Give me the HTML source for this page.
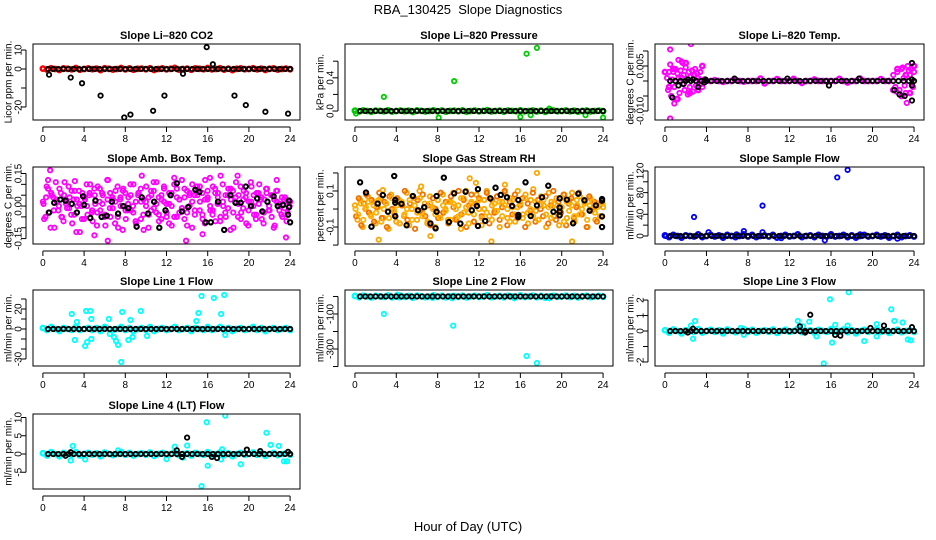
<!DOCTYPE html>
<html><head><meta charset="utf-8"><style>
html,body{margin:0;padding:0;background:#fff;}
svg{display:block;font-family:"Liberation Sans",Arial,sans-serif;}
</style></head><body>
<svg id="fig" width="936" height="540" viewBox="0 0 936 540" xmlns="http://www.w3.org/2000/svg">
<text x="468" y="14" text-anchor="middle" font-size="13">RBA_130425&#160; Slope Diagnostics</text>
<text x="468" y="531" text-anchor="middle" font-size="13">Hour of Day (UTC)</text>
</svg>
<script>
const xTicks=[0,4,8,12,16,20,24];
// CO2
const co2Band=[0.2,-0.3,0.4,0,-0.5,0.3,0.1,-0.2,0.5,-0.4,0,0.3,-0.1,0.2,-0.6,0.4,0.1,-0.3,0,0.5,-0.2,0.3,-0.4,0.1,0.2,-0.1,0.4,-0.5,0,0.3,-0.2,0.1,0.6,-0.3,0,0.2,-0.4,0.3,0.1,-0.1,0.5,-0.2,0,0.4,-0.3,0.2,-0.6,0.1,0.3,-0.1,0,0.4,-0.2,0.2,-0.5,0.1,0.3,-0.3,0,0.2,-0.1];
const co2OutH=[];const co2OutV=[];
const co2Blk=[0,0,0,0,0,0,0,0,0,0,0,0,0,0,0,0,0,0,0,0,0,0,0,0,0,0,0,0,0,0,0,0,0,0,0,0,0,0,0,0,0,0,0,0,0,0,0,0];
const co2BlkH=[0.6,2.7,3.8,5.6,7.9,8.5,10.7,11.8,13.6,15.9,16.5,18.6,19.7,21.6,23.8];
const co2BlkV=[-3,-4.5,-7.5,-14,-25.5,-24,-22,-14,-2.5,11.5,2.5,-14,-19,-22.5,-23.5];
// Pressure
const prsBand=[0.004,-0.006,0.008,0,-0.01,0.005,0.002,-0.004,0.009,-0.007,0,0.006,-0.002,0.004,-0.011,0.007,0.002,-0.005,0,0.009,-0.004,0.006,-0.008,0.002,0.004,-0.002,0.008,-0.009,0,0.006,-0.004,0.002,0.01,-0.006,0,0.004,-0.008,0.006,0.002,-0.002,0.009,-0.004,0,0.008,-0.006,0.004,-0.01,0.002,0.006,-0.002,0,0.008,-0.004,0.004,-0.009,0.002,0.006,-0.006,0,0.004,-0.002];
const prsOutH=[2.8,9.6,16.6,17.6,8.1,16.0,24.0,18.8,17.0,22.3,0.1];
const prsOutV=[0.17,0.36,0.69,0.76,-0.08,-0.07,-0.08,0.03,-0.05,-0.05,-0.03];
const prsBlk=[0,0,0,0,0,0,0,0,0,0,0,0,0,0,0,0,0,0,0,0,0,0,0,0,0,0,0,0,0,0,0,0,0,0,0,0,0,0,0,0,0,0,0,0,0,0,0,0];
const prsBlkH=[];const prsBlkV=[];
// Temp
const tmpBand=[0.003,-0.002,0.004,-0.006,0.001,0.006,-0.004,0.002,-0.003,0.005,0.000,0,0.0003,0,-0.0003,0,0,0.0004,0,-0.0002,0,0,0,0.0008,-0.0008,0,0,0.0006,0,0,0,0.0007,0,-0.0006,0,0,0.0005,0,0,0,0,0,0.0007,0,-0.0005,0,0,0.0008,0,0,0,0,0.0006,0,0,-0.003,0.004,-0.005,0.002,-0.004,0.005];
const tmpOutH=[0.2,0.3,0.4,0.5,0.6,0.7,0.8,0.9,1.0,1.1,1.2,1.3,1.4,1.5,1.6,1.7,1.8,1.9,2.0,2.1,2.2,2.3,2.4,2.5,2.6,2.7,2.8,2.9,3.0,3.1,3.2,3.3,3.4,3.5,3.6,3.8,0.5,2.5,0.5,0.9,1.7,1.3,22.0,22.2,22.4,22.6,22.8,23.0,23.2,23.4,23.6,23.8,24.0,22.3,22.9,23.3,23.5,23.9,23.7,23.1];
const tmpOutV=[0.001,-0.003,0.003,0.0055,-0.005,0.0005,0.003,-0.002,0.004,-0.006,0.0025,0.001,-0.004,0.0035,0.0065,-0.001,0.002,-0.003,0.0045,0.0008,-0.0045,0.003,-0.002,0.0015,0.0035,-0.0035,0.002,0.004,-0.0015,0.0025,0.001,0.0002,0.003,-0.001,-0.002,0.0005,0.0105,0.0123,-0.0125,-0.0075,0.006,0.007,0.002,-0.002,0.003,-0.003,0.004,0.001,-0.004,0.005,0.002,-0.001,0.003,-0.0035,0.0045,-0.0073,0.0035,-0.002,0.004,-0.0015];
const tmpBlk=[0,0,0,0,0,0,0,0,0,0,0,0,0,0,0,0,0,0,0,0,0,0,0,0,0,0,0,0,0,0,0,0,0,0,0,0,0,0,0,0,0,0,0,0,0,0,0,0];
const tmpBlkH=[0.7,1.3,1.8,2.2,2.7,3.2,3.8,3.9,6.7,11.8,15.8,18.7,22.1,22.6,23.1,23.8,23.8,23.8,23.8];
const tmpBlkV=[-0.0055,-0.0015,-0.001,0.0005,0.0005,-0.002,-0.0005,0.0005,0.0008,0.0008,-0.0015,0.0008,-0.003,-0.0045,-0.005,-0.0065,-0.0015,0.0005,0.006];
// Amb box temp
const ambA=[0.02,-0.05,0.08,-0.1,0.04,0.11,-0.02,0.06,-0.07,0.01,0.09,-0.04,0.03,-0.12,0.07,0.0,-0.06,0.1,0.05,-0.03,0.08,-0.09,0.02,0.06,-0.05,0.12,-0.01,0.04,-0.08,0.09,0.03,-0.11,0.06,-0.02,0.1,0.0,-0.07,0.05,0.08,-0.04,0.02,-0.1,0.07,0.11,-0.03,0.04,-0.06,0.09,0.01,-0.08,0.06,0.13,-0.05,0.03,-0.01,0.08,-0.09,0.05,0.1,-0.04,0.07,0.02,-0.06,0.12,0.04,-0.02,0.09,-0.07,0.06,0.14,0.0,-0.05,0.08,0.03,-0.1,0.11,0.05,-0.03,0.07,-0.08,0.02,0.09,-0.04,0.06,0.1,-0.06,0.03,0.08,-0.02,0.05,-0.09,0.07,0.01,-0.05,0.04,-0.03,0.02];
const ambB=[-0.06,0.09,-0.03,0.05,-0.1,0.02,0.08,-0.05,0.11,-0.01,0.04,-0.08,0.07,0.0,-0.12,0.06,0.03,-0.04,0.1,-0.07,0.01,0.09,-0.02,0.05,-0.09,0.12,-0.05,0.03,0.07,-0.1,0.0,0.08,-0.06,0.04,-0.02,0.1,-0.08,0.06,0.02,-0.11,0.09,-0.04,0.05,-0.01,0.11,-0.07,0.03,0.08,-0.05,0.01,-0.09,0.1,0.04,-0.03,0.12,-0.06,0.07,0.0,-0.1,0.05,0.09,-0.02,0.06,-0.08,0.03,0.13,-0.04,0.08,0.01,-0.07,0.1,-0.03,0.05,-0.11,0.07,0.02,-0.05,0.09,-0.01,0.04,-0.09,0.11,0.0,-0.06,0.06,0.03,-0.08,0.08,-0.02,0.05,-0.1,0.07,0.01,-0.04,0.03,-0.07,0.02];
const ambC=[0.01,0.04,-0.03,0.06,-0.02,0.03,0.0,-0.05,0.05,0.02,-0.01,0.07,-0.04,0.03,0.01,-0.06,0.04,0.0,0.06,-0.02,0.05,-0.03,0.08,0.01,-0.04,0.03,0.06,-0.01,0.02,-0.05,0.04,0.07,-0.02,0.01,0.05,-0.03,0.02,0.06,-0.06,0.03,0.0,0.04,-0.02,0.07,0.01,-0.04,0.05,0.02,-0.03,0.06,0.0,-0.05,0.08,0.03,-0.01,0.04,-0.03,0.06,0.02,-0.02,0.05,0.09,-0.04,0.03,0.07,0.0,-0.02,0.06,0.04,-0.05,0.02,0.05,-0.01,0.08,-0.03,0.04,0.01,-0.06,0.03,0.06,-0.02,0.02,0.05,-0.04,0.01,0.04,-0.03,0.06,0.0,-0.05,0.03,0.02,-0.02,0.04,-0.01,0.02,0.0];
const ambOutH=[0.7,0.5,6.3,13.9,18.9,5.0,23.6,9.6,15.5,3.1,22.7];
const ambOutV=[0.165,0.12,-0.16,-0.16,0.14,-0.135,-0.145,0.14,-0.13,0.115,0.12];
const ambBlkH=[0.6,1.1,1.7,2.2,2.8,3.3,3.9,4.0,4.6,5.1,5.7,6.2,6.7,7.3,7.8,8.3,9.1,9.6,10.2,10.8,11.3,11.9,12.4,13.0,13.5,14.1,14.8,15.2,15.8,16.3,17.0,17.6,18.2,18.7,19.2,19.7,20.2,20.8,21.3,21.8,22.4,22.8,23.3,23.9,23.8,23.9,24.0];
const ambBlkV=[-0.03,0.015,0.03,0.025,0.01,-0.03,0.045,0.005,-0.055,0.025,-0.05,-0.045,0.02,-0.035,0.0,-0.01,-0.095,0.04,-0.035,0.02,-0.1,-0.02,0.05,0.105,-0.025,-0.005,0.075,0.065,-0.075,-0.075,0.02,-0.11,0.05,0.015,0.015,0.09,0.0,0.035,-0.025,0.02,0.045,0.0,0.005,-0.005,-0.04,0.025,-0.075];
// RH
const rhA=[0.02,-0.06,0.05,-0.1,0.0,0.07,-0.03,0.04,-0.08,0.01,0.06,-0.05,0.03,-0.11,0.08,-0.01,-0.07,0.05,0.02,-0.04,0.09,-0.09,0.0,0.06,-0.06,0.1,-0.02,0.03,-0.08,0.07,0.01,-0.1,0.05,-0.03,0.08,0.0,-0.06,0.04,0.09,-0.05,0.02,-0.11,0.06,0.1,-0.02,0.03,-0.07,0.08,0.0,-0.09,0.05,0.1,-0.04,0.02,-0.01,0.07,-0.1,0.04,0.09,-0.05,0.06,0.01,-0.07,0.1,0.03,-0.03,0.08,-0.08,0.05,0.11,-0.01,-0.06,0.07,0.02,-0.1,0.09,0.04,-0.04,0.06,-0.09,0.01,0.08,-0.05,0.05,0.09,-0.07,0.02,0.07,-0.03,0.04,-0.1,0.06,0.0,-0.06,0.03,-0.04,0.01];
const rhB=[-0.04,0.06,-0.09,0.03,0.08,-0.02,0.05,-0.07,0.01,0.09,-0.05,0.04,-0.1,0.07,0.0,-0.03,0.06,-0.08,0.02,0.1,-0.06,0.03,0.07,-0.11,0.05,-0.01,0.08,-0.04,0.02,-0.09,0.06,0.0,-0.05,0.09,-0.02,0.04,-0.08,0.07,0.01,-0.06,0.1,-0.03,0.05,-0.1,0.02,0.08,-0.07,0.03,0.06,-0.04,0.0,0.09,-0.08,0.05,-0.02,0.07,-0.06,0.01,0.1,-0.09,0.04,-0.03,0.08,-0.05,0.02,0.06,-0.1,0.03,-0.01,0.09,-0.07,0.05,0.0,-0.04,0.07,-0.08,0.02,0.1,-0.06,0.04,-0.02,0.08,-0.09,0.03,0.06,-0.05,0.01,0.09,-0.03,0.05,-0.1,0.07,-0.01,0.04,-0.07,0.02,0.05];
const rhC=[0.0,-0.03,0.03,-0.06,0.01,0.04,-0.04,0.02,-0.02,0.05,-0.07,0.0,0.03,-0.05,0.06,-0.01,0.02,-0.08,0.04,-0.03,0.0,0.05,-0.06,0.02,-0.02,0.06,-0.04,0.01,-0.07,0.03,0.0,-0.03,0.05,-0.05,0.02,-0.01,0.04,-0.06,0.03,0.0,-0.04,0.06,-0.02,0.01,-0.08,0.04,-0.03,0.02,0.05,-0.05,0.0,-0.02,0.06,-0.06,0.03,-0.01,0.04,-0.04,0.02,0.0,-0.07,0.05,-0.03,0.01,0.03,-0.05,0.06,-0.02,0.0,-0.04,0.04,-0.06,0.02,0.05,-0.03,0.01,-0.05,0.03,0.0,-0.02,0.06,-0.07,0.04,-0.01,0.02,-0.04,0.05,-0.03,0.0,0.03,-0.06,0.02,0.04,-0.02,0.01,-0.04,0.03];
const rhOutH=[17.6,13.2,21.0,2.3,11.1,7.3,2.7,6.4,11.7,14.5];
const rhOutV=[0.2,-0.18,-0.18,-0.17,0.17,-0.15,0.105,0.125,0.145,0.135];
const rhBlkH=[0.5,1.07,1.6,2.2,2.7,3.2,3.8,3.9,3.9,3.9,4.5,5.0,5.6,6.1,6.7,7.3,7.8,7.9,7.9,8.6,9.1,9.6,10.2,10.7,11.3,11.8,11.9,11.9,12.6,13.1,13.6,14.1,14.7,15.2,15.8,15.8,15.8,16.5,17.0,17.6,18.1,18.7,19.2,19.8,19.8,19.8,19.8,20.5,21.1,21.6,22.2,22.7,23.3,23.9,23.9,23.9,23.9];
const rhBlkV=[0.148,0.091,-0.098,0.03,0.077,-0.015,0.183,0.05,0.035,-0.04,0.029,-0.09,0.072,-0.007,0.01,-0.08,-0.107,0.072,-0.015,0.174,-0.072,0.087,-0.081,0.096,-0.007,0.017,-0.094,0.11,-0.066,0.059,0.118,0.078,0.065,0.017,0.05,-0.033,-0.044,0.148,-0.039,0.02,0.065,0.129,-0.015,0.059,0.008,-0.015,-0.035,0.052,-0.079,0.085,0.048,-0.009,0.02,-0.041,-0.1,0.046,0.055];
// Sample flow
const smpBand=[1,-2,2,0,-3,1,0,-1,3,-2,0,2,-1,1,-3,2,0,-2,0,3,-1,2,-2,0,1,-1,2,-3,0,2,-1,0,3,-2,0,1,-2,2,0,-1,3,-1,0,2,-2,1,-3,0,2,-1,0,2,-1,1,-3,0,2,-2,0,1,-1];
const smpOutH=[2.8,4.2,7.6,9.4,9.4,15.4,16.6,17.6,18.8,22.4,0.1,6.9,11.2];
const smpOutV=[35,7,9,56,7,-8,108,122,3,-5,0,3,-4];
const smpBlk=[0,0,0,0,0,0,0,0,0,0,0,0,0,0,0,0,0,0,0,0,0,0,0,0,0,0,0,0,0,0,0,0,0,0,0,0,0,0,0,0,0,0,0,0,0,0,0,0];
const smpBlkH=[];const smpBlkV=[];
// Line 1
const l1Band=[1,-1,2,0,-2,1,0,-1,2,-1,0,1,-1,1,-2,2,0,-1,0,2,-1,1,-2,0,1,-1,2,-2,0,1,-1,0,2,-1,0,1,-2,1,0,-1,2,-1,0,2,-1,1,-2,0,1,-1,0,2,-1,1,-2,0,1,-1,0,1,-1];
const l1OutH=[2.8,3.1,3.3,4.1,4.3,4.2,4.6,4.7,4.7,6.4,6.5,6.9,7.1,7.3,7.6,7.7,8.3,8.5,8.7,9.5,10.1,14.9,15.1,15.4,16.6,17.3,17.6,17.7];
const l1OutV=[15,-11,7,-17,-13,18,18,10,-10,10,-5,-8,-12,-16,-33,17,-11,9,-8,18,-7,8,16,33,31,15,34,-6];
const l1Blk=[0,0,0,0,0,0,0,0,0,0,0,0,0,0,0,0,0,0,0,0,0,0,0,0,0,0,0,0,0,0,0,0,0,0,0,0,0,0,0,0,0,0,0,0,0,0,0,0];
const l1BlkH=[];const l1BlkV=[];
// Line 2
const l2Band=[3,-4,5,0,-6,3,1,-3,6,-5,0,4,-2,3,-7,5,1,-4,0,6,-3,4,-5,1,3,-2,5,-6,0,4,-3,1,7,-4,0,3,-5,4,1,-2,6,-3,0,5,-4,3,-7,1,4,-2,0,5,-3,3,-6,1,4,-4,0,3,-2];
const l2OutH=[2.8,9.5,16.6,17.6,4.1,7.5,9.4,15.4,18.8,4.3];
const l2OutV=[-100,-167,-340,-380,10,-8,-10,-10,-10,-6];
const l2Blk=[0,0,0,0,0,0,0,0,0,0,0,0,0,0,0,0,0,0,0,0,0,0,0,0,0,0,0,0,0,0,0,0,0,0,0,0,0,0,0,0,0,0,0,0,0,0,0,0];
const l2BlkH=[];const l2BlkV=[];
// Line 3
const l3Band=[0.05,-0.1,0.1,0,-0.15,0.05,0,-0.05,0.12,-0.1,0,0.08,-0.05,0.05,-0.15,0.1,0,-0.08,0,0.12,-0.05,0.08,-0.1,0,0.05,-0.05,0.1,-0.12,0,0.08,-0.05,0,0.15,-0.08,0,0.05,-0.1,0.08,0,-0.05,0.12,-0.05,0,0.1,-0.08,0.05,-0.15,0,0.08,-0.05,0,0.1,-0.05,0.05,-0.12,0,0.08,-0.08,0,0.05,-0.05];
const l3OutH=[2.7,2.9,2.5,7.6,12.8,13.9,14.6,15.3,15.9,16.1,16.4,17.7,17.6,19.2,20.4,20.4,21.8,22.1,22.9,23.4,23.7,7.3,13.3];
const l3OutV=[-0.5,0.65,0.35,-0.25,0.65,0.6,-0.35,-2.1,2.05,-0.75,0.4,2.5,0.35,-0.65,0.45,-0.35,1.4,0.65,0.55,-0.55,-0.6,0.2,0.3];
const l3Blk=[0,0,0,0,0,0,0,0,0,0,0,0,0,0,0,0,0,0,0,0,0,0,0,0,0,0,0,0,0,0,0,0,0,0,0,0,0,0,0,0,0,0,0,0,0,0,0,0];
const l3BlkH=[2.2,2.7,13.0,13.5,14.0,16.4,16.9,19.8,21.1,23.8];
const l3BlkV=[-0.1,0.15,0.3,-0.1,1.05,-0.25,-0.3,0.2,0.35,0.25];
// Line 4
const l4Band=[0.2,-0.4,0.5,0,-0.6,0.3,0,-0.2,0.5,-0.4,0,0.3,-0.2,0.2,-0.6,0.4,0,-0.3,0,0.5,-0.2,0.3,-0.4,0,0.2,-0.2,0.4,-0.5,0,0.3,-0.2,0,0.6,-0.3,0,0.2,-0.4,0.3,0,-0.2,0.5,-0.2,0,0.4,-0.3,0.2,-0.6,0,0.3,-0.2,0,0.4,-0.2,0.2,-0.5,0,0.3,-0.3,0,0.2,-0.2];
const l4OutH=[2.7,2.9,4.1,7.3,12.0,12.8,14.0,15.4,15.9,16.0,17.3,17.4,17.7,19.2,21.7,22.1,22.9,23.4,23.7,13.6];
const l4OutV=[-1.8,2.2,-1.5,1,-1.4,2,2.3,-8.8,8.7,-3.2,-1.5,1.3,10.5,-2.8,5.8,2.5,2.2,-2,-2,-1];
const l4Blk=[0,0,0,0,0,0,0,0,0,0,0,0,0,0,0,0,0,0,0,0,0,0,0,0,0,0,0,0,0,0,0,0,0,0,0,0,0,0,0,0,0,0,0,0,0,0,0,0];
const l4BlkH=[2.2,2.7,13.0,13.5,14.0,16.4,16.9,19.8,21.1,23.8];
const l4BlkV=[-0.5,0.5,1,-0.8,4.5,-0.8,-1.1,1.2,0.8,0.6];

const NS='http://www.w3.org/2000/svg';
const svg=document.getElementById('fig');
const cols=[{x0:33,x1:300},{x0:345,x1:613},{x0:655,x1:924}];
const rows=[{y0:44,y1:120},{y0:167,y1:244},{y0:290,y1:366},{y0:414,y1:489}];
function mk(tag,attrs,parent){const e=document.createElementNS(NS,tag);for(const k in attrs)e.setAttribute(k,attrs[k]);(parent||svg).appendChild(e);return e;}
function panel(key,title,ylab,c,r,ymin,ymax,yt,ylabs,color,series){
  const C=cols[c],R=rows[r];
  const g=mk('g',{});
  
  
  const xs=h=>C.x0+(h+0.96)/25.92*(C.x1-C.x0);
  const ys=v=>R.y0+(ymax-v)/(ymax-ymin)*(R.y1-R.y0);
  const t=mk('text',{x:(C.x0+C.x1)/2,y:R.y0-5,'text-anchor':'middle','font-size':'11','font-weight':'bold'},g);t.textContent=title;
  
  
  const yl=mk('text',{x:0,y:0,'text-anchor':'middle','font-size':'10',transform:`translate(${C.x0-21.5},${(R.y0+R.y1)/2}) rotate(-90)`},g);yl.textContent=ylab;
  
  
  const xa=mk('line',{x1:xs(0),x2:xs(24),y1:R.y1+7,y2:R.y1+7,stroke:'#000','stroke-width':1},g);
  
  
  xTicks.forEach(v=>{const tk=mk('line',{x1:xs(v),x2:xs(v),y1:R.y1+7,y2:R.y1+12,stroke:'#000'},g);
    
    
    const tl=mk('text',{x:xs(v),y:R.y1+22,'text-anchor':'middle','font-size':'10'},g);tl.textContent=v;
    
    });
  const ya=mk('line',{x1:C.x0-7,x2:C.x0-7,y1:ys(yt[0]),y2:ys(yt[yt.length-1]),stroke:'#000'},g);
  
  
  yt.forEach(v=>{const tk=mk('line',{x1:C.x0-12,x2:C.x0-7,y1:ys(v),y2:ys(v),stroke:'#000'},g);
    
    });
  ylabs.forEach(s=>{const v=parseFloat(s);const tl=mk('text',{x:0,y:0,'text-anchor':'middle','font-size':'10',transform:`translate(${C.x0-11.5},${ys(v)}) rotate(-90)`},g);tl.textContent=s;
    
    });
  const cp=mk('clipPath',{id:'cp-'+key},g);mk('rect',{x:C.x0,y:R.y0,width:C.x1-C.x0,height:R.y1-R.y0},cp);
  const pg=mk('g',{'clip-path':`url(#cp-${key})`},g);
  series.forEach(s=>{
    s.v.forEach((v,i)=>{
      const h=s.h?s.h[i]:(s.start+i*(s.end-s.start)/Math.max(1,s.v.length-1));
      const p=mk('circle',{cx:xs(h),cy:ys(v),r:2.2,fill:'none',stroke:s.col,'stroke-width':s.sw||1.8},pg);
      
      
    });
  });
  const box=mk('rect',{x:C.x0,y:R.y0,width:C.x1-C.x0,height:R.y1-R.y0,fill:'none',stroke:'#000','stroke-width':1},g);
  
  
}
const K='#000';
function std(band,oh,ov,blk,bh,bv,col){return [
  {name:'band',v:band,start:0,end:24,col:col,sw:2.4},{name:'outlier',v:ov,h:oh,col:col},
  {name:'black-band',v:blk,start:0.5,end:24,col:K},{name:'black-outlier',v:bv,h:bh,col:K}];}
panel('co2','Slope Li–820 CO2','Licor ppm per min.',0,0,-26.84,13.16,[-20,-10,0,10],['-20','0','10'],'#f00',std(co2Band,co2OutH,co2OutV,co2Blk,co2BlkH,co2BlkV,'#f00'));
panel('pressure','Slope Li–820 Pressure','kPa per min.',1,0,-0.108,0.807,[0,0.2,0.4,0.6],['0.0','0.4'],'#0c0',std(prsBand,prsOutH,prsOutV,prsBlk,prsBlkH,prsBlkV,'#00cd00'));
panel('temp','Slope Li–820 Temp.','degrees C per min.',2,0,-0.013,0.01233,[-0.01,-0.005,0,0.005,0.01],['-0.010','0.005'],'#f0f',std(tmpBand,tmpOutH,tmpOutV,tmpBlk,tmpBlkH,tmpBlkV,'#f0f'));
panel('amb','Slope Amb. Box Temp.','degrees C per min.',0,1,-0.175,0.18,[-0.15,-0.1,-0.05,0,0.05,0.1,0.15],['-0.15','0.00','0.15'],'#f0f',[
  {name:'cloud-a',v:ambA,start:0,end:24,col:'#f0f'},{name:'cloud-b',v:ambB,start:0.12,end:23.9,col:'#f0f'},{name:'cloud-c',v:ambC,start:0.06,end:23.95,col:'#f0f'},{name:'outlier',v:ambOutV,h:ambOutH,col:'#f0f'},{name:'black',v:ambBlkV,h:ambBlkH,col:K,sw:2}]);
panel('rh','Slope Gas Stream RH','percent per min.',1,1,-0.194,0.233,[-0.2,-0.1,0,0.1,0.2],['-0.1','0.1'],'#f90',[
  {name:'cloud-a',v:rhA,start:0,end:24,col:'#ffa500'},{name:'cloud-b',v:rhB,start:0.12,end:23.9,col:'#f07000'},{name:'cloud-c',v:rhC,start:0.06,end:23.95,col:'#ffb000'},{name:'outlier',v:rhOutV,h:rhOutH,col:'#ffa500'},{name:'black',v:rhBlkV,h:rhBlkH,col:K,sw:2}]);
panel('sample','Slope Sample Flow','ml/min per min.',2,1,-14.8,127.3,[0,20,40,60,80,100,120],['0','40','80','120'],'#00f',std(smpBand,smpOutH,smpOutV,smpBlk,smpBlkH,smpBlkV,'#00f'));
panel('line1','Slope Line 1 Flow','ml/min per min.',0,2,-37,39,[-30,-20,-10,0,10,20,30],['-30','0','20'],'#0ff',std(l1Band,l1OutH,l1OutV,l1Blk,l1BlkH,l1BlkV,'#0ff'));
panel('line2','Slope Line 2 Flow','ml/min per min.',1,2,-397,37,[-400,-300,-200,-100,0],['-300','-100'],'#0ff',std(l2Band,l2OutH,l2OutV,l2Blk,l2BlkH,l2BlkV,'#0ff'));
panel('line3','Slope Line 3 Flow','ml/min per min.',2,2,-2.26,2.65,[-2,-1,0,1,2],['-2','0','1','2'],'#0ff',std(l3Band,l3OutH,l3OutV,l3Blk,l3BlkH,l3BlkV,'#0ff'));
panel('line4','Slope Line 4 (LT) Flow','ml/min per min.',0,3,-9.59,10.96,[-5,0,5,10],['-5','0','5','10'],'#0ff',std(l4Band,l4OutH,l4OutV,l4Blk,l4BlkH,l4BlkV,'#0ff'));
</script>
</body></html>
